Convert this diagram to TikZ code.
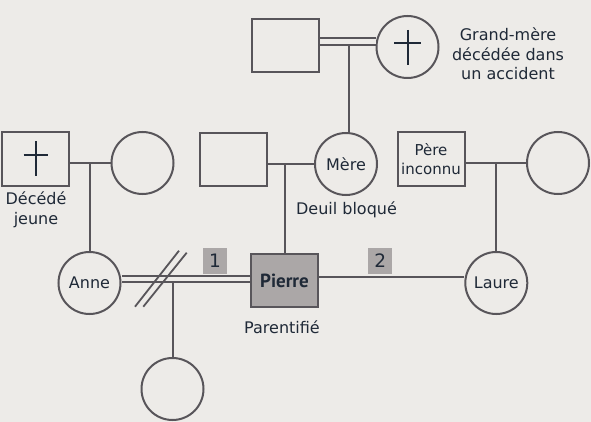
\documentclass[tikz,border=0pt]{standalone}
\usepackage{fontspec}
\setmainfont{DejaVu Sans}
\newfontfamily\boldfam{PT Sans}
\definecolor{bg}{HTML}{EDEBE8}
\definecolor{ln}{HTML}{58555A}
\definecolor{tx}{HTML}{1F2937}
\definecolor{boxfill}{HTML}{ABA7A7}
\begin{document}
\begin{tikzpicture}[x=1pt,y=-1pt,
  every node/.style={text=tx,font=\fontsize{16}{19.5}\selectfont},
  person/.style={draw=ln,line width=2pt,inner sep=0pt},
  sq/.style={person,rectangle,minimum width=67pt,minimum height=53pt},
  ci/.style={person,circle,minimum size=62pt},
  link/.style={draw=ln,line width=2pt},
  dbl/.style={draw=ln,line width=2pt,double=bg,double distance=4.5pt},
  crossline/.style={draw=tx,line width=2pt},
  numbox/.style={fill=boxfill,minimum width=24pt,minimum height=26pt,inner sep=0pt,font=\fontsize{18.5}{20}\selectfont},
  caption/.style={align=center,inner sep=0pt}]
\fill[bg] (0,0) rectangle (591,422);
\useasboundingbox (0,0) rectangle (591,422);
% generation 1
\node[sq] (gp) at (285.5,45.5) {};
\node[ci] (gm) at (407.5,47) {};
\node[caption] (gmtext) at (508,54) {Grand-mère\\décédée dans\\un accident};
% generation 2
\node[sq] (dj) at (35.5,159) {};
\node[caption] (djtext) at (36,210) {Décédé\\jeune};
\node[ci] (djw) at (142.5,163) {};
\node[sq] (fa) at (233,159.5) {};
\node[ci] (mere) at (346,164) {Mère};
\node[caption] (deuil) at (346.5,210) {Deuil bloqué};
\node[sq,align=center,font=\fontsize{15}{19}\selectfont] (pi) at (431,159) {Père\\inconnu};
\node[ci] (pw) at (558,163) {};
% generation 3
\node[ci] (anne) at (89.5,283) {Anne};
\node[sq,fill=boxfill,font=\boldfam\fontsize{19}{20}\selectfont\bfseries] (pierre) at (284.5,280.5) {Pierre};
\node[caption] (parent) at (282,327) {Parentifié};
\node[ci] (laure) at (496.3,283) {Laure};
\node[numbox] (n1) at (215,261) {1};
\node[numbox] (n2) at (380.3,261) {2};
% generation 4
\node[ci] (child) at (172.5,389) {};
% crosses
\draw[crossline] ([yshift=17pt]gm.center) -- ([yshift=-18pt]gm.center);
\draw[crossline] ([xshift=-13.5pt,yshift=4pt]gm.center) -- ([xshift=13.5pt,yshift=4pt]gm.center);
\draw[crossline] ([yshift=17.5pt]dj.center) -- ([yshift=-17.5pt]dj.center);
\draw[crossline] ([xshift=-12pt,yshift=4pt]dj.center) -- ([xshift=12pt,yshift=4pt]dj.center);
% connectors
\draw[link] ([xshift=2.5pt]mere.north) -- ([xshift=2.5pt]mere.north |- gp.east);
\draw[dbl] ([yshift=4pt]gp.east) -- ([yshift=4pt]gp.east -| gm.west);
\draw[link] (djw.west) -- (djw.west -| dj.east);
\draw[link] (anne.north) -- (anne.north |- djw.west);
\draw[link] (mere.west) -- (mere.west -| fa.east);
\draw[link] (pierre.north) -- (pierre.north |- mere.west);
\draw[link] (pw.west) -- (pw.west -| pi.east);
\draw[link] (laure.north) -- (laure.north |- pw.west);
\draw[link] (child.north) -- (child.north |- pierre.west);
\draw[dbl] ([yshift=1.3pt]pierre.west) -- ([yshift=1.3pt]pierre.west -| anne.east);
\draw[link] ([yshift=4pt]pierre.east) -- ([yshift=4pt]pierre.east -| laure.west);
% divorce marks
\draw[link,line width=1.8pt] (135,306.7) -- (179,250.7);
\draw[link,line width=1.8pt] (143.3,306.7) -- (186.7,252.7);
\end{tikzpicture}
\end{document}
